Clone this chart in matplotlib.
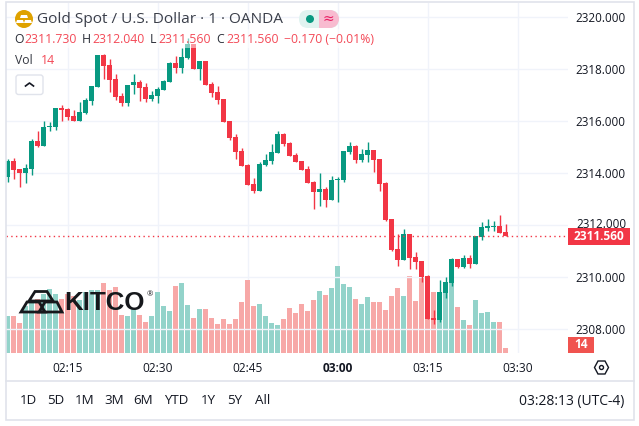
import matplotlib
matplotlib.use("Agg")
import matplotlib.pyplot as plt
from matplotlib.patches import Rectangle, FancyBboxPatch, Circle, Polygon, Wedge

plt.rcParams['font.family'] = ['Open Sans', 'DejaVu Sans']

# datos velas 1 min, 02:05 a 03:28
opens = [2313.85,2314.46,2314.15,2314.00,2314.15,2315.23,2315.04,2315.77,2315.77,2316.50,2316.46,2316.19,
         2316.00,2316.31,2316.77,2317.31,2318.54,2318.15,2317.62,2316.96,2316.69,2317.38,2317.50,2317.31,
         2316.85,2316.96,2317.19,2317.50,2318.23,2318.04,2318.42,2318.96,2318.00,2318.31,2317.42,2317.12,
         2316.85,2316.00,2315.38,2314.85,2314.31,2313.58,2313.31,2314.31,2314.46,2314.77,2315.50,2315.15,
         2314.69,2314.46,2314.15,2313.65,2313.27,2313.38,2312.96,2313.73,2313.73,2314.81,2315.04,2314.50,
         2314.69,2314.88,2314.54,2313.62,2312.23,2311.08,2310.65,2311.65,2310.77,2310.62,2310.04,2308.42,
         2308.35,2309.38,2309.77,2310.69,2310.38,2310.73,2310.50,2311.54,2311.88,2311.92,2311.96,2311.73]
highs = [2314.54,2314.58,2314.15,2314.35,2315.31,2315.62,2316.00,2315.96,2316.50,2316.62,2316.50,2316.42,
         2316.73,2316.88,2317.35,2318.54,2318.58,2318.38,2317.81,2317.08,2317.38,2317.81,2317.58,2317.46,
         2317.15,2317.31,2317.58,2318.27,2318.50,2318.81,2319.19,2318.96,2318.31,2318.31,2317.50,2317.35,
         2316.85,2316.00,2315.50,2314.96,2314.35,2313.81,2314.42,2314.73,2315.12,2315.62,2315.54,2315.19,
         2314.77,2314.46,2314.27,2313.69,2314.00,2313.46,2313.88,2313.85,2314.85,2315.19,2315.08,2314.92,
         2315.19,2314.88,2314.54,2313.65,2312.23,2311.65,2311.85,2311.65,2310.96,2310.62,2310.08,2308.73,
         2309.88,2310.00,2310.73,2310.69,2310.85,2310.85,2311.58,2312.12,2312.23,2312.15,2312.38,2312.04]
lows = [2313.65,2313.77,2313.46,2313.62,2313.92,2315.00,2315.04,2315.62,2315.65,2316.00,2316.04,2316.00,
        2316.00,2316.27,2316.62,2317.31,2317.62,2317.12,2316.81,2316.58,2316.58,2317.04,2316.77,2316.73,
        2316.77,2316.69,2317.19,2317.50,2317.85,2317.85,2318.38,2318.00,2317.58,2317.38,2316.92,2316.65,
        2315.96,2315.27,2314.54,2314.27,2313.54,2313.23,2313.31,2314.27,2314.35,2314.77,2315.04,2314.65,
        2314.42,2314.12,2313.62,2312.62,2312.73,2312.69,2312.96,2312.88,2313.65,2314.73,2314.38,2314.42,
        2314.42,2314.04,2313.31,2312.15,2311.00,2310.42,2310.65,2310.31,2310.31,2309.81,2308.38,2308.19,
        2308.27,2309.19,2309.65,2310.35,2310.35,2310.35,2310.50,2311.42,2311.77,2311.77,2311.69,2311.56]
closes = [2314.46,2314.12,2314.00,2314.19,2315.23,2315.04,2315.77,2315.81,2316.50,2316.42,2316.15,2316.00,
          2316.35,2316.81,2317.35,2318.54,2318.12,2317.58,2316.92,2316.69,2317.38,2317.50,2317.27,2316.85,
          2317.00,2317.23,2317.54,2318.23,2318.04,2318.46,2318.96,2318.00,2318.31,2317.38,2317.08,2316.81,
          2315.96,2315.35,2314.81,2314.27,2313.54,2313.31,2314.35,2314.50,2314.81,2315.50,2315.12,2314.65,
          2314.42,2314.12,2313.62,2313.27,2313.38,2312.96,2313.73,2313.77,2314.85,2315.04,2314.50,2314.73,
          2314.88,2314.50,2313.58,2312.19,2311.04,2310.65,2311.65,2310.73,2310.58,2310.00,2308.38,2308.35,
          2309.42,2309.81,2310.69,2310.38,2310.73,2310.50,2311.58,2311.92,2311.96,2311.96,2311.69,2311.56]
volumes = [104,104,84,132,148,151,165,179,165,151,165,160,148,171,176,176,196,176,185,106,104,126,106,87,
           104,171,132,118,188,196,134,98,123,123,98,81,95,81,95,143,204,132,137,104,84,78,95,126,112,137,
           118,148,174,162,182,244,193,185,151,137,157,143,143,120,160,182,160,216,146,213,168,171,140,174,
           202,129,92,78,148,112,115,87,87,14]

price_ticks = [2308, 2310, 2314, 2316, 2318, 2320]
time_ticks = [10, 25, 40, 55, 70, 85]
time_labels = ["02:15", "02:30", "02:45", "03:00", "03:15", "03:30"]
range_buttons = ["1D", "5D", "1M", "3M", "6M", "YTD", "1Y", "5Y", "All"]

UP = "#089981"
DOWN = "#f23645"
TXT = "#131722"
GRID = "#f0f3fa"
W, H = 639, 426

fig = plt.figure(figsize=(W/100, H/100), dpi=100, facecolor="white")
rect = [6/W, 1-353/H, (568-6)/W, (353-3)/H]

# volumen abajo
ax_v = fig.add_axes(rect, zorder=1)
ax_v.set_xlim(-0.25, (568-7.5)/6)
ax_v.set_ylim(0, 350*2.8)
ax_v.axis("off")

# precio arriba
ax = fig.add_axes(rect, zorder=2)
ax.patch.set_alpha(0)
ax.set_xlim(-0.25, (568-7.5)/6)
ax.set_ylim(2316+(121-353)/26, 2316+(121-3)/26)
for s in ax.spines.values():
    s.set_visible(False)

for t in time_ticks:
    ax_v.axvline(t, color=GRID, lw=1, zorder=0)
for p in price_ticks + [2312]:
    ax.axhline(p, color=GRID, lw=1, zorder=0)

x = list(range(len(opens)))
is_up = [c >= o for o, c in zip(opens, closes)]
colors = [UP if u else DOWN for u in is_up]
vol_colors = ["#93d3ca" if u else "#f7a8a7" for u in is_up]

ax_v.bar(x, volumes, width=0.82, color=vol_colors, lw=0, zorder=2)
ax.vlines(x, lows, highs, colors=colors, lw=1, zorder=3)
bottoms = [min(o, c) for o, c in zip(opens, closes)]
heights = [max(abs(c-o), 0.04) for o, c in zip(opens, closes)]
ax.bar(x, heights, bottom=bottoms, width=0.84, color=colors, lw=0, zorder=4)
ax.axhline(closes[-1], color=DOWN, lw=1, ls=(0, (1, 2.4)), zorder=5)

ax.yaxis.tick_right()
ax.set_yticks(price_ticks)
ax.set_yticklabels([f"{p}.000" for p in price_ticks], fontsize=8.4, color=TXT)
ax.set_xticks(time_ticks)
ax.set_xticklabels(time_labels, fontsize=8.6, color=TXT)
ax.get_xticklabels()[3].set_fontweight("bold")
ax.tick_params(axis="both", length=0)
ax.tick_params(axis="y", pad=5.5)
ax.tick_params(axis="x", pad=6.5)

# capa de arriba en pixeles para la interfaz
ui = fig.add_axes([0, 0, 1, 1], zorder=5)
ui.set_xlim(0, W)
ui.set_ylim(H, 0)
ui.axis("off")

BORDER = "#e0e3eb"
ui.add_patch(Rectangle((5.5, 2), 628.5, 418, fill=False, ec=BORDER, lw=1.2))
ui.plot([5.5, 634], [381, 381], color=BORDER, lw=1.2)

# leyenda
ui.add_patch(Rectangle((12, 29), 366, 19, fc="white", ec="none", alpha=0.5))
ui.add_patch(Circle((24, 19), 9, fc="#dfa200", ec="none"))
ui.add_patch(Polygon([[21, 15], [27, 15], [28, 18], [20, 18]], fc="white", ec="none"))
ui.add_patch(Polygon([[17, 20], [23, 20], [24, 23], [16, 23]], fc="white", ec="none"))
ui.add_patch(Polygon([[25, 20], [31, 20], [32, 23], [24, 23]], fc="white", ec="none"))
ui.text(37, 19.5, "Gold Spot / U.S. Dollar · 1 · OANDA", fontsize=11.1, color="#3a3e49", va="center")

legend_parts = [(14, "O", TXT), (24, "2311.730", DOWN), (82, "H", TXT), (92, "2312.040", DOWN),
                (150, "L", TXT), (158, "2311.560", DOWN), (216, "C", TXT), (226, "2311.560", DOWN),
                (284, "−0.170 (−0.01%)", DOWN)]
for lx, s, c in legend_parts:
    ui.text(lx, 39.5, s, fontsize=8.8, color=c, va="center", alpha=0.9)
ui.text(15, 60.5, "Vol", fontsize=8.8, color=TXT, va="center", alpha=0.85)
ui.text(41, 60.5, "14", fontsize=8.8, color=DOWN, va="center", alpha=0.9)

ui.add_patch(FancyBboxPatch((16, 75), 27, 19.5, boxstyle="round,pad=0,rounding_size=2.5",
                            fc="white", ec=BORDER, lw=1))
ui.plot([25.5, 29.5, 33.5], [86, 83, 86], color=TXT, lw=1.2)

# pastilla de estado
ui.add_patch(FancyBboxPatch((299, 10), 40, 18, boxstyle="round,pad=0,rounding_size=9",
                            fc="#e0f3f0", ec="none"))
ui.add_patch(Wedge((330, 19), 9, 270, 90, fc="#f8bbd0", ec="none"))
ui.add_patch(Rectangle((319, 10), 11, 18, fc="#f8bbd0", ec="none"))
ui.add_patch(Circle((310, 19), 4, fc=UP, ec="none"))
ui.text(328, 19, "≈", fontsize=10, color="#e91e63", ha="center", va="center", family="DejaVu Sans")

# etiquetas de la escala, el 2312 queda tapado a medias por el precio
ui.text(576, 224, "2312.000", fontsize=8.4, color=TXT, va="center")
ui.add_patch(Rectangle((568, 228), 62, 17, fc=DOWN, ec="none", zorder=3))
ui.text(599, 236.5, "2311.560", fontsize=8.6, color="white", fontweight="bold", ha="center", va="center", zorder=4)
ui.add_patch(Rectangle((568, 337), 26, 16, fc="#f0534f", ec="none"))
ui.text(581, 345, "14", fontsize=8.6, color="white", fontweight="bold", ha="center", va="center")
ui.add_patch(Polygon([[594.5, 367.5], [598, 361], [605, 361], [608.5, 367.5], [605, 374], [598, 374]],
                     fill=False, ec=TXT, lw=1))
ui.add_patch(Circle((601.5, 367.5), 2, fill=False, ec=TXT, lw=1))

# logo
LOGO = "#16181c"
for pts in ([[21, 312], [27, 302], [39, 302], [45, 312]],
            [[39, 312], [45, 302], [57, 302], [62, 312]],
            [[29, 301], [35, 291.5], [47, 291.5], [53, 301]]):
    ui.add_patch(Polygon(pts, closed=True, fill=False, ec=LOGO, lw=2))
ui.text(64, 303, "KITCO", fontsize=18.6, fontweight="bold", color=LOGO, va="center", ha="left", family="Liberation Sans")
ui.text(147, 295, "®", fontsize=5.5, color=LOGO, ha="left", va="center")

# botones de rango
button_x = [28, 56, 85, 114, 143, 176, 208, 235, 263]
for bx, s in zip(button_x, range_buttons):
    ui.text(bx, 401, s, fontsize=9.6, color=TXT, ha="center", va="center")
ui.text(624, 401, "03:28:13 (UTC-4)", fontsize=10, color=TXT, ha="right", va="center")

fig.savefig("out.png", dpi=100)
